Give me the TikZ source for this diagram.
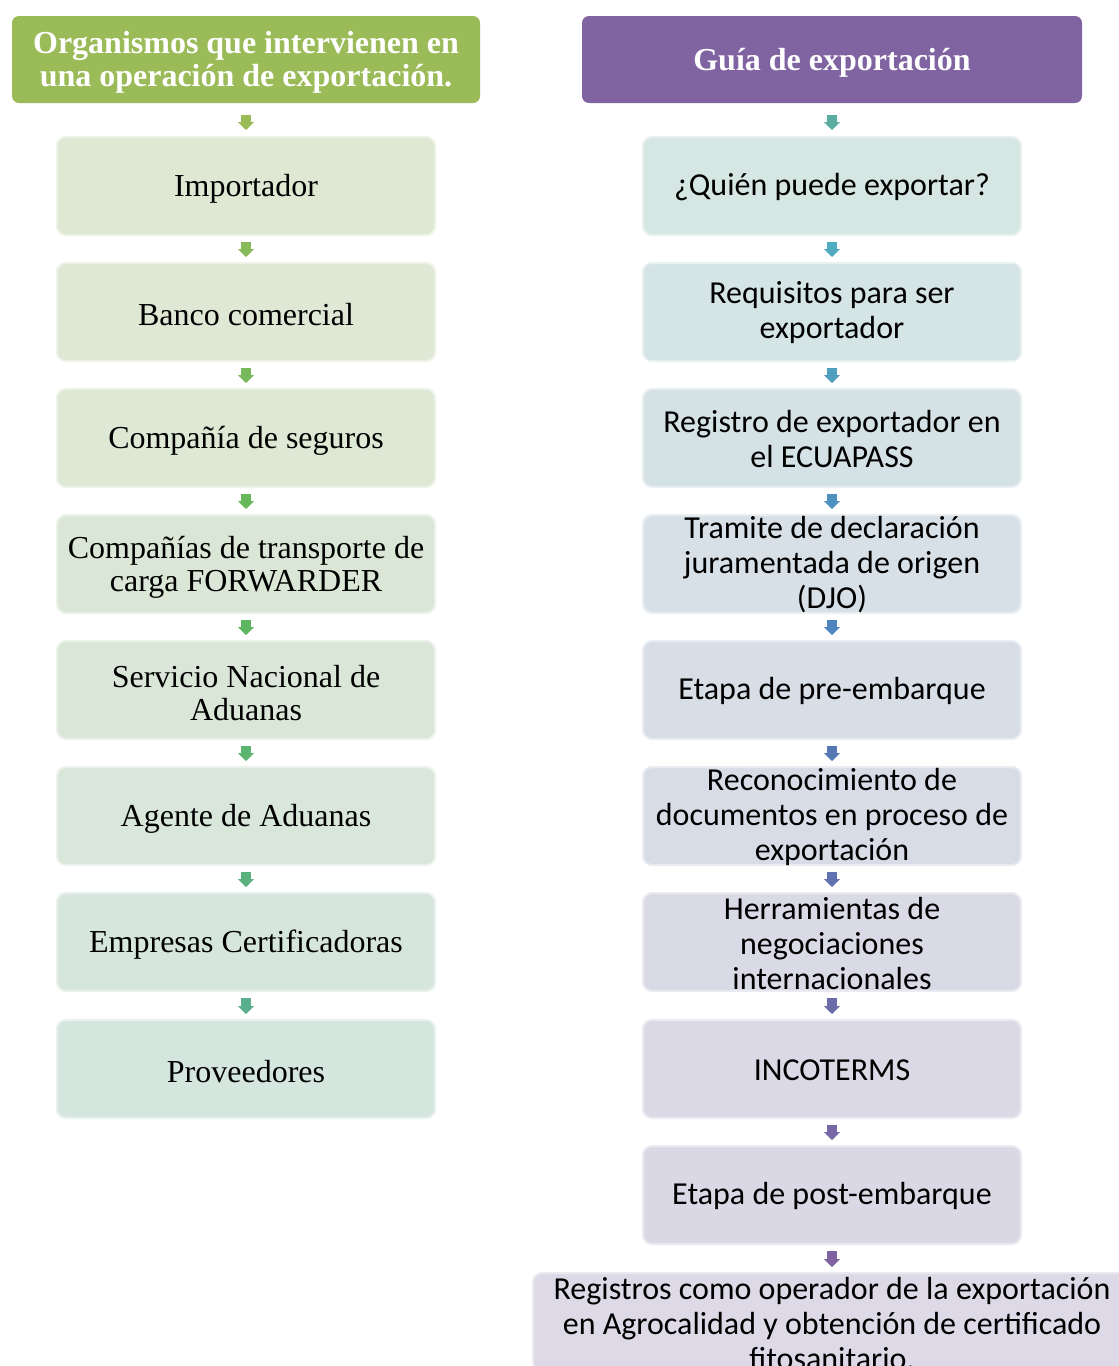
\documentclass[tikz,border=0pt]{standalone}
\usepackage{fontspec}
\setmainfont{Liberation Serif}
\newfontfamily\calibri{Carlito}
\usetikzlibrary{arrows.meta}
\definecolor{hdrL}{HTML}{9BBB59}
\definecolor{hdrR}{HTML}{8064A2}
\definecolor{lf1}{HTML}{DFE8D3}\definecolor{lf2}{HTML}{DEE8D4}\definecolor{lf3}{HTML}{DDE8D5}\definecolor{lf4}{HTML}{DBE7D6}
\definecolor{lf5}{HTML}{DAE7D8}\definecolor{lf6}{HTML}{D9E7DA}\definecolor{lf7}{HTML}{D7E6DC}\definecolor{lf8}{HTML}{D5E6DF}
\definecolor{rf1}{HTML}{D5E6E3}\definecolor{rf2}{HTML}{D5E4E4}\definecolor{rf3}{HTML}{D5E2E5}\definecolor{rf4}{HTML}{D6E0E6}
\definecolor{rf5}{HTML}{D7DEE6}\definecolor{rf6}{HTML}{D8DCE6}\definecolor{rf7}{HTML}{D9DAE6}\definecolor{rf8}{HTML}{DAD9E5}
\definecolor{rf9}{HTML}{DBD8E5}\definecolor{rf10}{HTML}{DDD9E6}
\definecolor{la1}{HTML}{9BBB59}\definecolor{la2}{HTML}{89BA59}\definecolor{la3}{HTML}{77B95A}\definecolor{la4}{HTML}{66B85B}
\definecolor{la5}{HTML}{5CB660}\definecolor{la6}{HTML}{5BB46F}\definecolor{la7}{HTML}{5BB17E}\definecolor{la8}{HTML}{5AAF8E}
\definecolor{ra1}{HTML}{5BAE9F}\definecolor{ra2}{HTML}{4FABC0}\definecolor{ra3}{HTML}{4F9FC0}\definecolor{ra4}{HTML}{4F92BF}
\definecolor{ra5}{HTML}{4F84BD}\definecolor{ra6}{HTML}{5679B6}\definecolor{ra7}{HTML}{6172B0}\definecolor{ra8}{HTML}{6C6CAB}
\definecolor{ra9}{HTML}{7767A6}\definecolor{ra10}{HTML}{8064A2}
% box + text: #1 name, #2 position, #3 box style, #4 text style, #5 text
\newcommand\mybox[5]{%
  \node[#3] (#1) at (#2) {};
  \node[#4] (#1t) at (#1.center) {#5};}
\begin{document}
\begin{tikzpicture}[x=1pt,y=-1pt,
  hdr/.style={fill=#1, draw=none, rounded corners=7pt, minimum height=87pt, inner sep=0pt},
  htext/.style={text=white, font=\bfseries\fontsize{32}{33}\selectfont, align=center, inner sep=0pt, yshift=-3pt},
  box/.style={fill=#1, draw=#1!55!white, line width=2pt, rounded corners=9pt,
    minimum width=378pt, minimum height=98pt, inner sep=0pt},
  ltext/.style={font=\fontsize{32}{33}\selectfont, align=center, inner sep=0pt, yshift=-3pt},
  rtext/.style={font=\calibri\fontsize{32}{35}\selectfont, align=center, inner sep=0pt, yshift=-1pt},
  arr/.style={draw=#1, line width=10pt, -{Triangle[width=16pt,length=8pt]}},
  harr/.style={arr=#1, shorten <=12pt, shorten >=6pt},
  barr/.style={arr=#1, shorten <=6pt, shorten >=5pt}
]
\useasboundingbox (0,0) rectangle (1119,1366);
% left column
\mybox{lh}{246,59.5}{hdr=hdrL, minimum width=468pt}{htext}{Organismos que intervienen en\\una operación de exportación.}
\mybox{l1}{246,186}{box=lf1}{ltext}{Importador}
\mybox{l2}{246,312}{box=lf2}{ltext}{Banco comercial}
\mybox{l3}{246,438}{box=lf3}{ltext}{Compañía de seguros}
\mybox{l4}{246,564}{box=lf4}{ltext}{Compañías de transporte de\\carga FORWARDER}
\mybox{l5}{246,690}{box=lf5}{ltext}{Servicio Nacional de\\Aduanas}
\mybox{l6}{246,816}{box=lf6}{ltext}{Agente de Aduanas}
\mybox{l7}{246,942}{box=lf7}{ltext}{Empresas Certificadoras}
\mybox{l8}{246,1069}{box=lf8}{ltext}{Proveedores}
\draw[harr=la1] (lh) -- (l1);
\draw[barr=la2] (l1) -- (l2);
\draw[barr=la3] (l2) -- (l3);
\draw[barr=la4] (l3) -- (l4);
\draw[barr=la5] (l4) -- (l5);
\draw[barr=la6] (l5) -- (l6);
\draw[barr=la7] (l6) -- (l7);
\draw[barr=la8] (l7) -- (l8);
% right column
\mybox{rh}{832,59.5}{hdr=hdrR, minimum width=500pt}{htext}{Guía de exportación}
\mybox{r1}{832,186}{box=rf1}{rtext}{¿Quién puede exportar?}
\mybox{r2}{832,312}{box=rf2}{rtext}{Requisitos para ser\\exportador}
\mybox{r3}{832,438}{box=rf3}{rtext}{Registro de exportador en\\el ECUAPASS}
\mybox{r4}{832,564}{box=rf4}{rtext}{Tramite de declaración\\juramentada de origen\\(DJO)}
\mybox{r5}{832,690}{box=rf5}{rtext}{Etapa de pre-embarque}
\mybox{r6}{832,816}{box=rf6}{rtext}{Reconocimiento de\\documentos en proceso de\\exportación}
\mybox{r7}{832,942}{box=rf7}{rtext}{Herramientas de\\negociaciones\\internacionales}
\mybox{r8}{832,1069}{box=rf8}{rtext}{INCOTERMS}
\mybox{r9}{832,1195}{box=rf9}{rtext}{Etapa de post-embarque}
\mybox{r10}{832,1322}{box=rf10, minimum width=598pt}{rtext}{Registros como operador de la exportación\\en Agrocalidad y obtención de certificado\\fitosanitario.}
\draw[harr=ra1] (rh) -- (r1);
\draw[barr=ra2] (r1) -- (r2);
\draw[barr=ra3] (r2) -- (r3);
\draw[barr=ra4] (r3) -- (r4);
\draw[barr=ra5] (r4) -- (r5);
\draw[barr=ra6] (r5) -- (r6);
\draw[barr=ra7] (r6) -- (r7);
\draw[barr=ra8] (r7) -- (r8);
\draw[barr=ra9] (r8) -- (r9);
\draw[barr=ra10] (r9) -- (r10);
\end{tikzpicture}
\end{document}
